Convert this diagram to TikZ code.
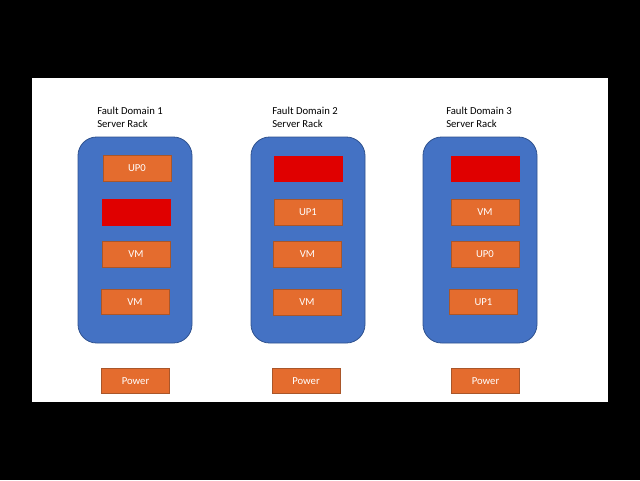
\documentclass[tikz,border=0pt]{standalone}
\usepackage{fontspec}
\setmainfont{Carlito}
\usepackage{xcolor}
\usepackage{tikz}
\usetikzlibrary{positioning}

\definecolor{rackblue}{HTML}{4472C4}
\definecolor{rackedge}{HTML}{2F528F}
\definecolor{vmorange}{HTML}{E46C2E}
\definecolor{vmedge}{HTML}{A9562A}
\definecolor{failred}{HTML}{E00000}

\begin{document}
\begin{tikzpicture}[x=0.75pt, y=-0.75pt,
    rack/.style={draw=rackedge, line width=0.6pt, fill=rackblue, rounded corners=14pt, minimum width=85.5pt, minimum height=154.5pt, inner sep=0pt},
    slot/.style={draw=vmedge, line width=0.6pt, fill=vmorange, text=white, minimum width=51pt, minimum height=19pt, inner sep=0pt, font=\fontsize{8pt}{9.75pt}\selectfont},
    failed/.style={slot, draw=failred, fill=failred},
    title/.style={anchor=north west, inner sep=0pt, align=left, font=\fontsize{8pt}{9.75pt}\selectfont}]

    % page and frame
    \fill[black] (0,0) rectangle (640,480);
    \fill[white] (32,78) rectangle (608,402);

    % Fault domain 1
    \node [title] (title1) at (97,106.5) {Fault Domain 1\\Server Rack};
    \node [rack] (rack1) at (135,240) {};
    \node [slot] (up0a) at (137,168.5) {UP0};
    \node [failed] (fail1) at (136.5,212.5) {};
    \node [slot] (vm1a) at (136,254.5) {VM};
    \node [slot] (vm1b) at (135,302) {VM};
    \node [slot] (power1) at (135.5,381) {Power};

    % Fault domain 2
    \node [title] (title2) at (272,106.5) {Fault Domain 2\\Server Rack};
    \node [rack] (rack2) at (308,240) {};
    \node [failed] (fail2) at (308.5,169) {};
    \node [slot] (up1b) at (308,212.5) {UP1};
    \node [slot] (vm2a) at (307.5,254.5) {VM};
    \node [slot] (vm2b) at (307,302.5) {VM};
    \node [slot] (power2) at (306,381) {Power};

    % Fault domain 3
    \node [title] (title3) at (446,106.5) {Fault Domain 3\\Server Rack};
    \node [rack] (rack3) at (480,240) {};
    \node [failed] (fail3) at (485.5,169) {};
    \node [slot] (vm3a) at (485,212.5) {VM};
    \node [slot] (up0c) at (485,254.5) {UP0};
    \node [slot] (up1c) at (483.5,302) {UP1};
    \node [slot] (power3) at (485.5,381) {Power};
\end{tikzpicture}
\end{document}
